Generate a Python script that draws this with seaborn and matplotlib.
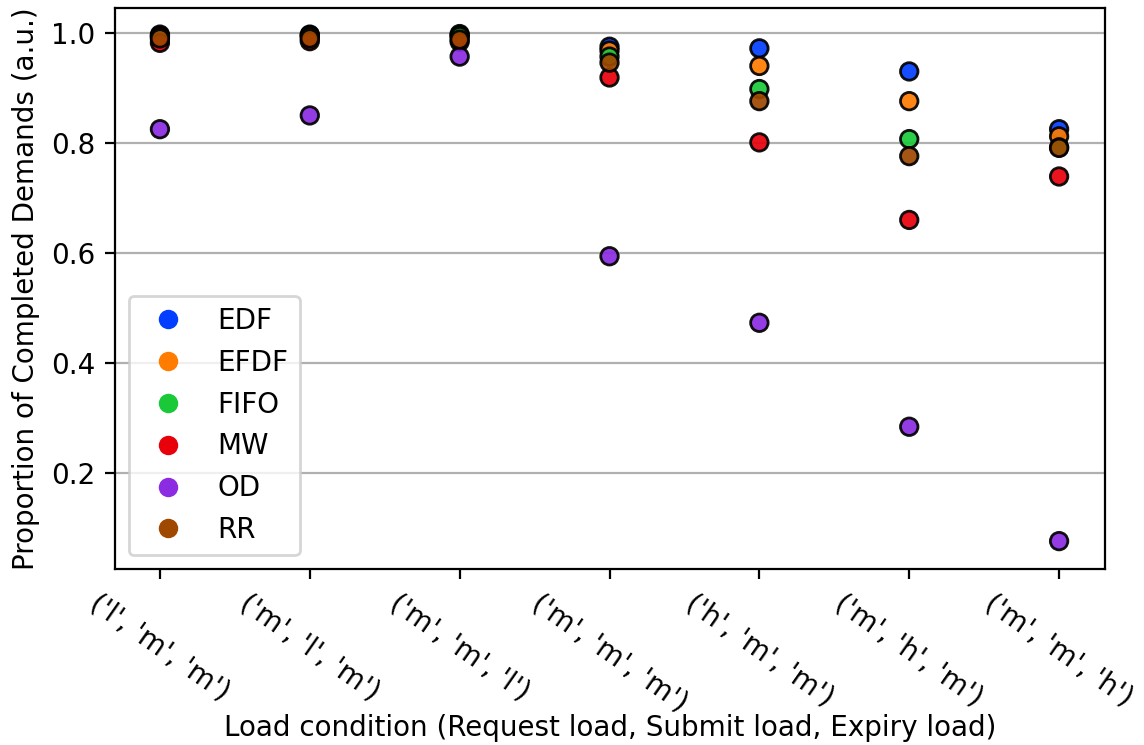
import matplotlib
matplotlib.use("Agg")

import matplotlib.pyplot as plt
import pandas as pd
import seaborn as sns
from matplotlib.lines import Line2D

# load conditions (request, submit, expiry)
conditions = [
    ("l", "m", "m"),
    ("m", "l", "m"),
    ("m", "m", "l"),
    ("m", "m", "m"),
    ("h", "m", "m"),
    ("m", "h", "m"),
    ("m", "m", "h"),
]
policies = ["EDF", "EFDF", "FIFO", "MW", "OD", "RR"]

edf = [0.997, 0.997, 0.998, 0.975, 0.972, 0.930, 0.825]
efdf = [0.995, 0.996, 0.996, 0.968, 0.940, 0.876, 0.812]
fifo = [0.993, 0.994, 0.994, 0.957, 0.898, 0.807, 0.792]
mw = [0.982, 0.985, 0.984, 0.919, 0.801, 0.660, 0.739]
od = [0.825, 0.850, 0.957, 0.594, 0.473, 0.284, 0.076]
rr = [0.990, 0.990, 0.988, 0.946, 0.876, 0.776, 0.791]

series = dict(zip(policies, [edf, efdf, fifo, mw, od, rr]))

rows = []
for pol, vals in series.items():
    for cond, v in zip(conditions, vals):
        rows.append({"condition": str(cond), "policy": pol, "value": v})
df = pd.DataFrame(rows)

plt.rcParams["font.family"] = ["DejaVu Sans"]
palette = sns.color_palette("bright", len(policies))

fig, ax = plt.subplots(figsize=(5.72, 3.725), dpi=200)
sns.stripplot(
    data=df, x="condition", y="value", hue="policy", hue_order=policies,
    order=[str(c) for c in conditions], palette=palette, jitter=False,
    size=6.3, linewidth=1.0, edgecolor="black", alpha=0.92, legend=False,
    ax=ax, zorder=3,
)
ax.grid(axis="y", color="#b0b0b0", linewidth=0.8, zorder=0)
ax.set_axisbelow(True)
ax.set_xlabel("Load condition (Request load, Submit load, Expiry load)",
              labelpad=-1)
ax.set_ylabel("Proportion of Completed Demands (a.u.)")
ax.set_xlim(-0.3, len(conditions) - 0.693)
ax.set_ylim(0.025, 1.045)
plt.xticks(rotation=-35)

handles = [
    Line2D([], [], marker="o", linestyle="", markersize=7, color=c,
           markeredgewidth=0, label=p)
    for p, c in zip(policies, palette)
]
ax.legend(handles=handles, loc="lower left")

fig.subplots_adjust(left=0.1005, right=0.966, top=0.989, bottom=0.236)
fig.savefig("out.png", dpi=200)
